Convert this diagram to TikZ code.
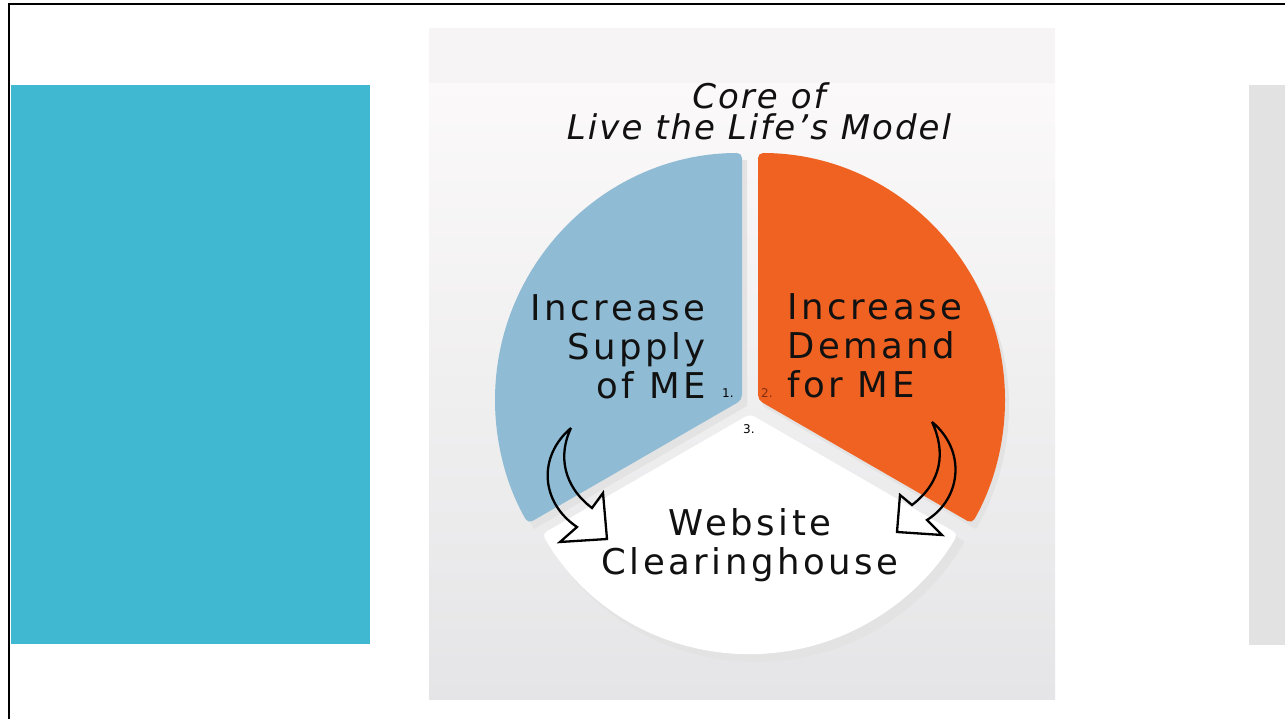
\documentclass[tikz,border=0pt]{standalone}
\usepackage{fontspec}
\setmainfont{DejaVu Sans}
\newfontfamily\segfont[LetterSpace=10]{DejaVu Sans}
\newfontfamily\headfont[LetterSpace=6]{DejaVu Sans}
\usepackage{tikz}
\usetikzlibrary{calc}
\definecolor{tealbox}{RGB}{65,184,210}
\definecolor{greybox}{RGB}{226,226,226}
\definecolor{supplyblue}{RGB}{143,188,212}
\definecolor{demandorange}{RGB}{240,98,34}
\definecolor{numbrown}{RGB}{130,45,15}
\definecolor{photoband}{RGB}{246,244,244}
\definecolor{phototop}{RGB}{251,249,249}
\definecolor{photobottom}{RGB}{229,229,231}
\definecolor{inktext}{RGB}{17,17,17}

\begin{document}
\begin{tikzpicture}[x=1pt,y=1pt,
	segtext/.style={font=\segfont\fontsize{35.5}{39}\selectfont, text=inktext, inner sep=0pt},
	smallnum/.style={font=\fontsize{12}{13}\selectfont, inner sep=0pt},
	bendarrow/.style={draw=black, line width=2.3pt, line join=miter}]
			\useasboundingbox (0,0) rectangle (1285,-719);
			\fill[white] (0,0) rectangle (1285,-719);
			\draw[line width=2.5pt] (9,-719) -- (9,-4) -- (1285,-4);
			\fill[tealbox] (11,-85) rectangle (370,-644);
			\fill[greybox] (1249,-85) rectangle (1285,-645);
			\shade[top color=phototop, bottom color=photobottom] (429,-83) rectangle (1055,-699);
			\fill[photoband] (429,-28) rectangle (1055,-83);
			\fill[black!11] (747,-406) -- ++(90:246) arc[start angle=90,end angle=210,radius=246] -- cycle;
			\fill[black!11] (763,-406) -- ++(90:246) arc[start angle=90,end angle=-30,radius=246] -- cycle;
			\fill[black!11] (756,-421) -- ++(210:241) arc[start angle=210,end angle=330,radius=241] -- cycle;
			\fill[supplyblue, rounded corners=5pt] (742,-400) -- ++(90:247) arc[start angle=90,end angle=210,radius=247] -- cycle;
			\fill[demandorange, rounded corners=5pt] (758,-400) -- ++(90:247) arc[start angle=90,end angle=-30,radius=247] -- cycle;
			\fill[white, rounded corners=5pt] (750,-414) -- ++(210:240) arc[start angle=210,end angle=330,radius=240] -- cycle;
			\draw[bendarrow] (571,-428) .. controls (538,-456) and (540,-502) .. (577,-527) -- (560,-542) -- (607,-539) -- (603,-493) -- (592,-508) .. controls (563,-486) and (558,-455) .. (571,-428);
			\draw[bendarrow] (932,-422) .. controls (966,-450) and (962,-498) .. (927,-520) -- (942,-535) -- (897,-532) -- (900,-495) -- (912,-505) .. controls (942,-482) and (946,-452) .. (932,-422);
			\node[font=\headfont\itshape\fontsize{34}{31}\selectfont, text=inktext, align=center, anchor=base] (title) at (759,-140) {Core of\\Live the Life’s Model};
			\node[segtext, align=right, anchor=base east] (supply) at (706,-398) {Increase\\Supply\\of ME};
			\node[segtext, align=left, anchor=base west] (demand) at (787,-397) {Increase\\Demand\\for ME};
			\node[segtext, align=center, anchor=base] (website) at (750,-574) {Website\\Clearinghouse};
			\node[smallnum, anchor=base west] (one) at (722,-397) {1.};
			\node[smallnum, color=numbrown, anchor=base west] (two) at (761,-397) {2.};
			\node[smallnum, anchor=base west] (three) at (743,-433) {3.};
		\end{tikzpicture}
\end{document}
